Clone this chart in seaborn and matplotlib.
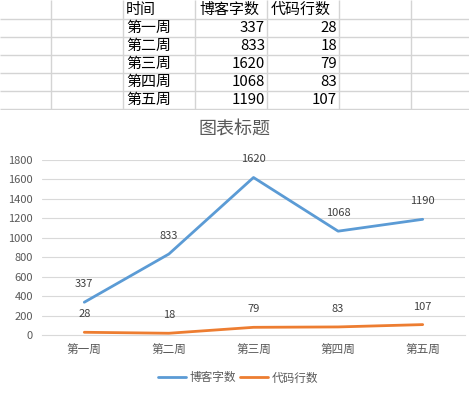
import matplotlib
matplotlib.use("Agg")
import matplotlib.pyplot as plt
import seaborn as sns
import pandas as pd
from matplotlib.lines import Line2D

# ---- data ----
header = ["时间", "博客字数", "代码行数"]
weeks = ["第一周", "第二周", "第三周", "第四周", "第五周"]
blog_words = [337, 833, 1620, 1068, 1190]
code_lines = [28, 18, 79, 83, 107]
series_names = ["博客字数", "代码行数"]
title = "图表标题"
yticks = list(range(0, 2000, 200))

sns.set_theme(style="white")
plt.rcParams["font.family"] = ["Noto Sans CJK SC", "DejaVu Sans"]

W, H = 469, 393
fig = plt.figure(figsize=(W / 100, H / 100), dpi=100)
fig.patch.set_facecolor("white")

# ---- spreadsheet overlay (pixel coordinates) ----
bg = fig.add_axes([0, 0, 1, 1])
bg.set_xlim(0, W)
bg.set_ylim(H, 0)
bg.axis("off")
grid_c = "#d4d4d4"
row_lines = [19, 37, 55, 73, 91, 109]
col_lines = [51, 123, 195, 267, 339, 411]
for y in row_lines:
    bg.plot([0, W], [y, y], color=grid_c, lw=1.0, solid_capstyle="butt")
for x in col_lines:
    bg.plot([x, x], [0, 109], color=grid_c, lw=1.0, solid_capstyle="butt")
row_centers = [10, 28, 46, 64, 82, 100]
tfs = 10.8
bg.text(126, row_centers[0], header[0], fontsize=tfs, va="center", ha="left", color="black")
bg.text(199, row_centers[0], header[1], fontsize=tfs, va="center", ha="left", color="black")
bg.text(271, row_centers[0], header[2], fontsize=tfs, va="center", ha="left", color="black")
for i, (wk, b, c) in enumerate(zip(weeks, blog_words, code_lines)):
    yc = row_centers[i + 1]
    bg.text(126, yc, wk, fontsize=tfs, va="center", ha="left", color="black")
    bg.text(265, yc, str(b), fontsize=tfs, va="center", ha="right", color="black")
    bg.text(337, yc, str(c), fontsize=tfs, va="center", ha="right", color="black")

# chart background covering the sheet below row 6
bg.add_patch(plt.Rectangle((0, 110), W, H - 110, facecolor="white", edgecolor="none", zorder=3))

# ---- chart ----
left, right, top_px, bot_px = 42, 465, 160, 335
ax = fig.add_axes([left / W, (H - bot_px) / H, (right - left) / W, (bot_px - top_px) / H])
ax.set_facecolor("none")

df = pd.DataFrame({
    "week": list(range(len(weeks))) * 2,
    "value": blog_words + code_lines,
    "series": [series_names[0]] * len(weeks) + [series_names[1]] * len(weeks),
})
colors = {series_names[0]: "#5B9BD5", series_names[1]: "#ED7D31"}
sns.lineplot(data=df, x="week", y="value", hue="series", palette=colors,
             linewidth=2.0, ax=ax, legend=False, sort=False, zorder=3)

ax.set_xlim(-0.5, len(weeks) - 0.5)
ax.set_ylim(0, 1800)
ax.set_yticks(yticks)
ax.set_xticks(range(len(weeks)))
ax.set_xticklabels(weeks)
ax.set_xlabel("")
ax.set_ylabel("")
for y in yticks[1:]:
    ax.axhline(y, color="#d9d9d9", lw=0.8, zorder=1)
for s in ["top", "right", "left"]:
    ax.spines[s].set_visible(False)
ax.spines["bottom"].set_color("#d9d9d9")
ax.spines["bottom"].set_linewidth(0.8)
ax.tick_params(axis="y", length=0, pad=6.5, labelsize=8, labelcolor="#595959")
ax.tick_params(axis="x", which="major", length=0, pad=6, labelsize=8.4, labelcolor="#595959")
ax.set_xticks([i - 0.5 for i in range(len(weeks) + 1)], minor=True)
ax.tick_params(axis="x", which="minor", length=3.5, width=0.8, color="#d9d9d9", direction="out")

for vals in (blog_words, code_lines):
    for i, v in enumerate(vals):
        ax.annotate(str(v), (i, v), xytext=(0, 13), textcoords="offset points",
                    ha="center", va="center", fontsize=8, color="#404040")

fig.text(234 / W, 1 - 130 / H, title, ha="center", va="center", fontsize=13, color="#595959")

handles = [Line2D([], [], color=colors[n], lw=2.0) for n in series_names]
fig.legend(handles, series_names, loc="center", bbox_to_anchor=(238 / W, 1 - 378 / H),
           ncol=2, frameon=False, fontsize=8.4, handlelength=2.4, handletextpad=0.25,
           columnspacing=0.4, labelcolor="#595959")

fig.savefig("out.png", dpi=100, facecolor="white")
